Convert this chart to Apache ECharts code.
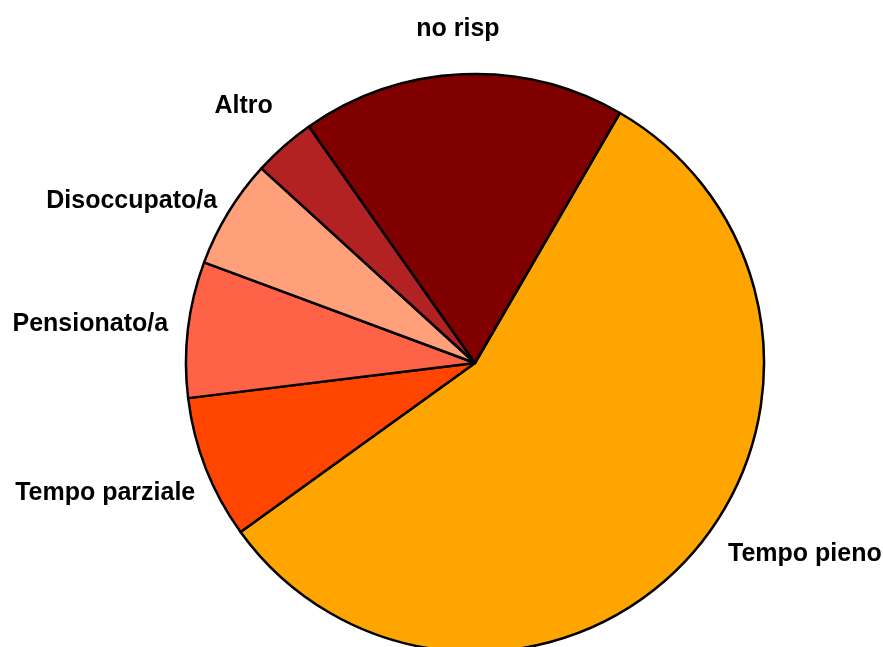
<!DOCTYPE html>
<html>
<head>
<meta charset="utf-8">
<script src="https://cdn.jsdelivr.net/npm/echarts@6/dist/echarts.min.js"></script>
<style>
html,body{margin:0;padding:0;background:#fff;}
#chart{width:883px;height:647px;}
</style>
</head>
<body>
<div id="chart"></div>
<script>
const categories = ['Tempo pieno', 'Tempo parziale', 'Pensionato/a', 'Disoccupato/a', 'Altro', 'no risp'];
const values = [56.7, 8.0, 7.6, 6.1, 3.5, 18.1];
const colors = ['#FFA500', '#FF4500', '#FF6347', '#FFA07A', '#B22222', '#800000'];

// small per-label nudges from the default outside placement
const labelNudge = [[24, -16], [8, 17], [0, -3], [6, -1], [2, -25], [38, -25]];

const chart = echarts.init(document.getElementById('chart'), null, {renderer: 'canvas'});
chart.setOption({
  backgroundColor: '#ffffff',
  animation: false,
  series: [{
    type: 'pie',
    center: [475, 363],
    radius: [0, 289],
    startAngle: 59.9,
    clockwise: true,
    avoidLabelOverlap: false,
    data: categories.map((c, i) => ({name: c, value: values[i], itemStyle: {color: colors[i]}})),
    itemStyle: {borderColor: '#000', borderWidth: 2.5},
    label: {
      show: true,
      position: 'outside',
      formatter: '{b}',
      fontFamily: 'Liberation Sans, Arial, sans-serif',
      fontWeight: 'bold',
      fontSize: 25,
      color: '#000',
      distanceToLabelLine: 0
    },
    labelLine: {show: false, length: 20, length2: 0},
    labelLayout: function (p) {
      const n = labelNudge[p.dataIndex] || [0, 0];
      return {dx: n[0], dy: n[1]};
    },
    emphasis: {disabled: true}
  }]
});
</script>
</body>
</html>
